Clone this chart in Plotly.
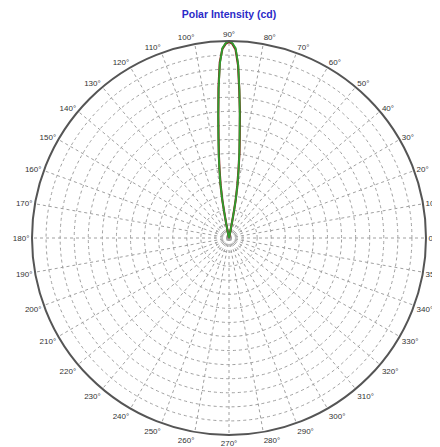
import plotly.graph_objects as go

# Beam angle (degrees) and luminous intensity (cd) for the two measured curves
angles = [78, 78.5, 79, 79.5, 80, 81, 82, 83, 84, 85, 86, 87, 88, 89, 90,
          91, 92, 93, 94, 95, 96, 97, 98, 99, 100, 100.5, 101, 101.5, 102]
intensity_green = [0.0, 0.4, 1.1, 1.9, 2.8, 3.9, 4.9, 6.0, 7.2, 8.8, 10.6, 12.4, 13.5, 13.85, 14.0,
                   13.85, 13.5, 12.4, 10.6, 8.8, 7.2, 6.0, 4.9, 3.9, 2.8, 1.9, 1.1, 0.4, 0.0]
intensity_red = [0.0, 0.4, 1.0, 1.8, 2.7, 3.8, 4.8, 6.1, 7.3, 8.9, 10.5, 12.3, 13.4, 13.8, 13.95,
                 13.8, 13.45, 12.5, 10.7, 8.7, 7.1, 5.9, 4.8, 3.8, 2.7, 1.8, 1.0, 0.4, 0.0]
r_max = 14
ring_step = 1

fig = go.Figure()
fig.add_trace(go.Scatterpolar(r=intensity_red, theta=angles, mode="lines",
                              line=dict(color="#8b1a1a", width=2.2), showlegend=False))
fig.add_trace(go.Scatterpolar(r=intensity_green, theta=angles, mode="lines",
                              line=dict(color="#2e9e2e", width=1.8), showlegend=False))

W, H = 432, 439
fig.update_layout(
    width=W, height=H,
    paper_bgcolor="white",
    margin=dict(l=24, r=14, t=33, b=12),
    title=dict(text="<b>Polar Intensity (cd)</b>", x=(229 - 8) / W, xanchor="center",
               y=1 - 6 / H, yanchor="middle",
               font=dict(family="Liberation Sans, Arial", size=10.5, color="#2b2bc8")),
    polar=dict(
        bgcolor="white",
        domain=dict(x=[0, 1], y=[0, 1]),
        radialaxis=dict(range=[0, r_max], dtick=ring_step, showticklabels=False, ticks="",
                        showline=False, gridcolor="#a0a0a0", griddash="dot", gridwidth=1),
        angularaxis=dict(rotation=0, direction="counterclockwise", dtick=10, ticks="",
                         tickfont=dict(family="Liberation Sans, Arial", size=8, color="#333333"),
                         ticksuffix="°", linecolor="#555555", linewidth=2,
                         gridcolor="#a0a0a0", griddash="dot", gridwidth=1),
    ),
)

fig.write_html("out.html")
